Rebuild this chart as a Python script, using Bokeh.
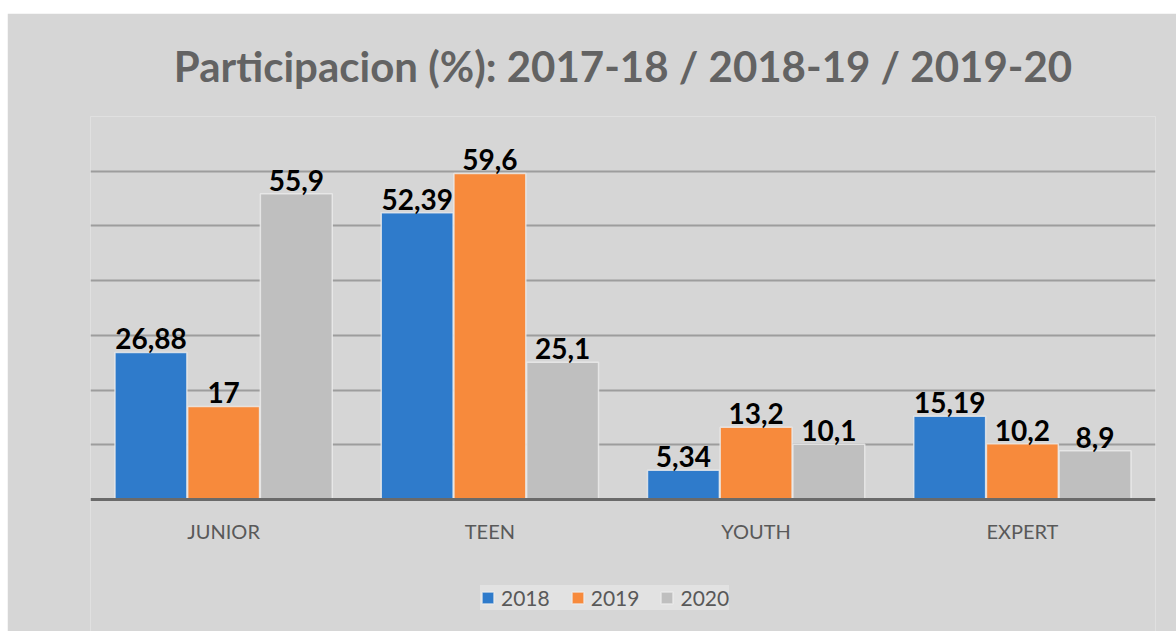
from bokeh.plotting import figure
from bokeh.models import ColumnDataSource, FactorRange, Range1d, FixedTicker, Legend, LegendItem, LabelSet, Span
from bokeh.core.properties import value
from bokeh.transform import dodge
from bokeh.embed import file_html
from bokeh.resources import INLINE

categories = ["JUNIOR", "TEEN", "YOUTH", "EXPERT"]
years = ["2018", "2019", "2020"]
v2018 = [26.88, 52.39, 5.34, 15.19]
v2019 = [17, 59.6, 13.2, 10.2]
v2020 = [55.9, 25.1, 10.1, 8.9]
grid_ticks = [10, 20, 30, 40, 50, 60, 70]
colors = ["#2F7BCB", "#F78A3C", "#BFBFBF"]

def fmt(v):
    return ("%g" % v).replace(".", ",")

FONT = "Lato"
p = figure(x_range=FactorRange(*categories), y_range=Range1d(-24.13, 70),
           width=1169, height=618, output_backend="svg", toolbar_location=None,
           min_border_left=83, min_border_right=21, min_border_top=103, min_border_bottom=0)
p.margin = (13, 0, 0, 7)
p.border_fill_color = "#d6d6d6"
p.background_fill_color = "#d6d6d6"
p.outline_line_color = None
p.xaxis.visible = False
p.yaxis.visible = False

p.title.text = "Participacion (%): 2017-18 / 2018-19 / 2019-20"
p.title.align = "center"
p.title.text_font = FONT
p.title.text_font_size = "42px"
p.title.text_font_style = "bold"
p.title.text_color = "#636363"
p.title.standoff = 51

p.ygrid.ticker = FixedTicker(ticks=grid_ticks)
p.ygrid.grid_line_color = "#8f8f8f"
p.ygrid.grid_line_width = 2
p.ygrid.grid_line_alpha = 0.8
p.xgrid.grid_line_color = None

offsets = [-0.273, 0.0, 0.273]
series = [v2018, v2019, v2020]
items = []
for yr, vals, off, col in zip(years, series, offsets, colors):
    src = ColumnDataSource(dict(cat=categories, val=vals, lab=[fmt(v) for v in vals]))
    r = p.vbar(x=dodge("cat", off, range=p.x_range), top="val", bottom=0, width=0.27, source=src,
               fill_color=col, line_color="#ececec", line_width=1.5, line_alpha=0.8)
    items.append(LegendItem(label=yr, renderers=[r]))
    lbl = LabelSet(x=dodge("cat", off, range=p.x_range), y="val", text="lab", source=src,
                   text_align="center", text_baseline="bottom", y_offset=3,
                   text_font=value(FONT), text_font_size=value("28px"),
                   text_font_style="bold", text_color="#000000")
    p.add_layout(lbl)

# baseline (category axis line)
p.add_layout(Span(location=0, dimension="width", line_color="#6a6a6a", line_width=3))

# category labels
p.text(x=categories, y=-5.67, text=categories, text_align="center", text_baseline="middle",
       text_font=value(FONT), text_font_size="20px", text_color="#595959")

leg = Legend(items=items, orientation="horizontal", location=(390, 21),
             background_fill_color="#e2e2e2", background_fill_alpha=1.0,
             border_line_color=None, label_text_font=FONT, label_text_font_size="21px",
             label_text_color="#595959", glyph_width=15, glyph_height=15,
             spacing=20, padding=12, margin=0, label_standoff=6)
p.add_layout(leg, "center")

open("out.html", "w").write(file_html(p, INLINE))
